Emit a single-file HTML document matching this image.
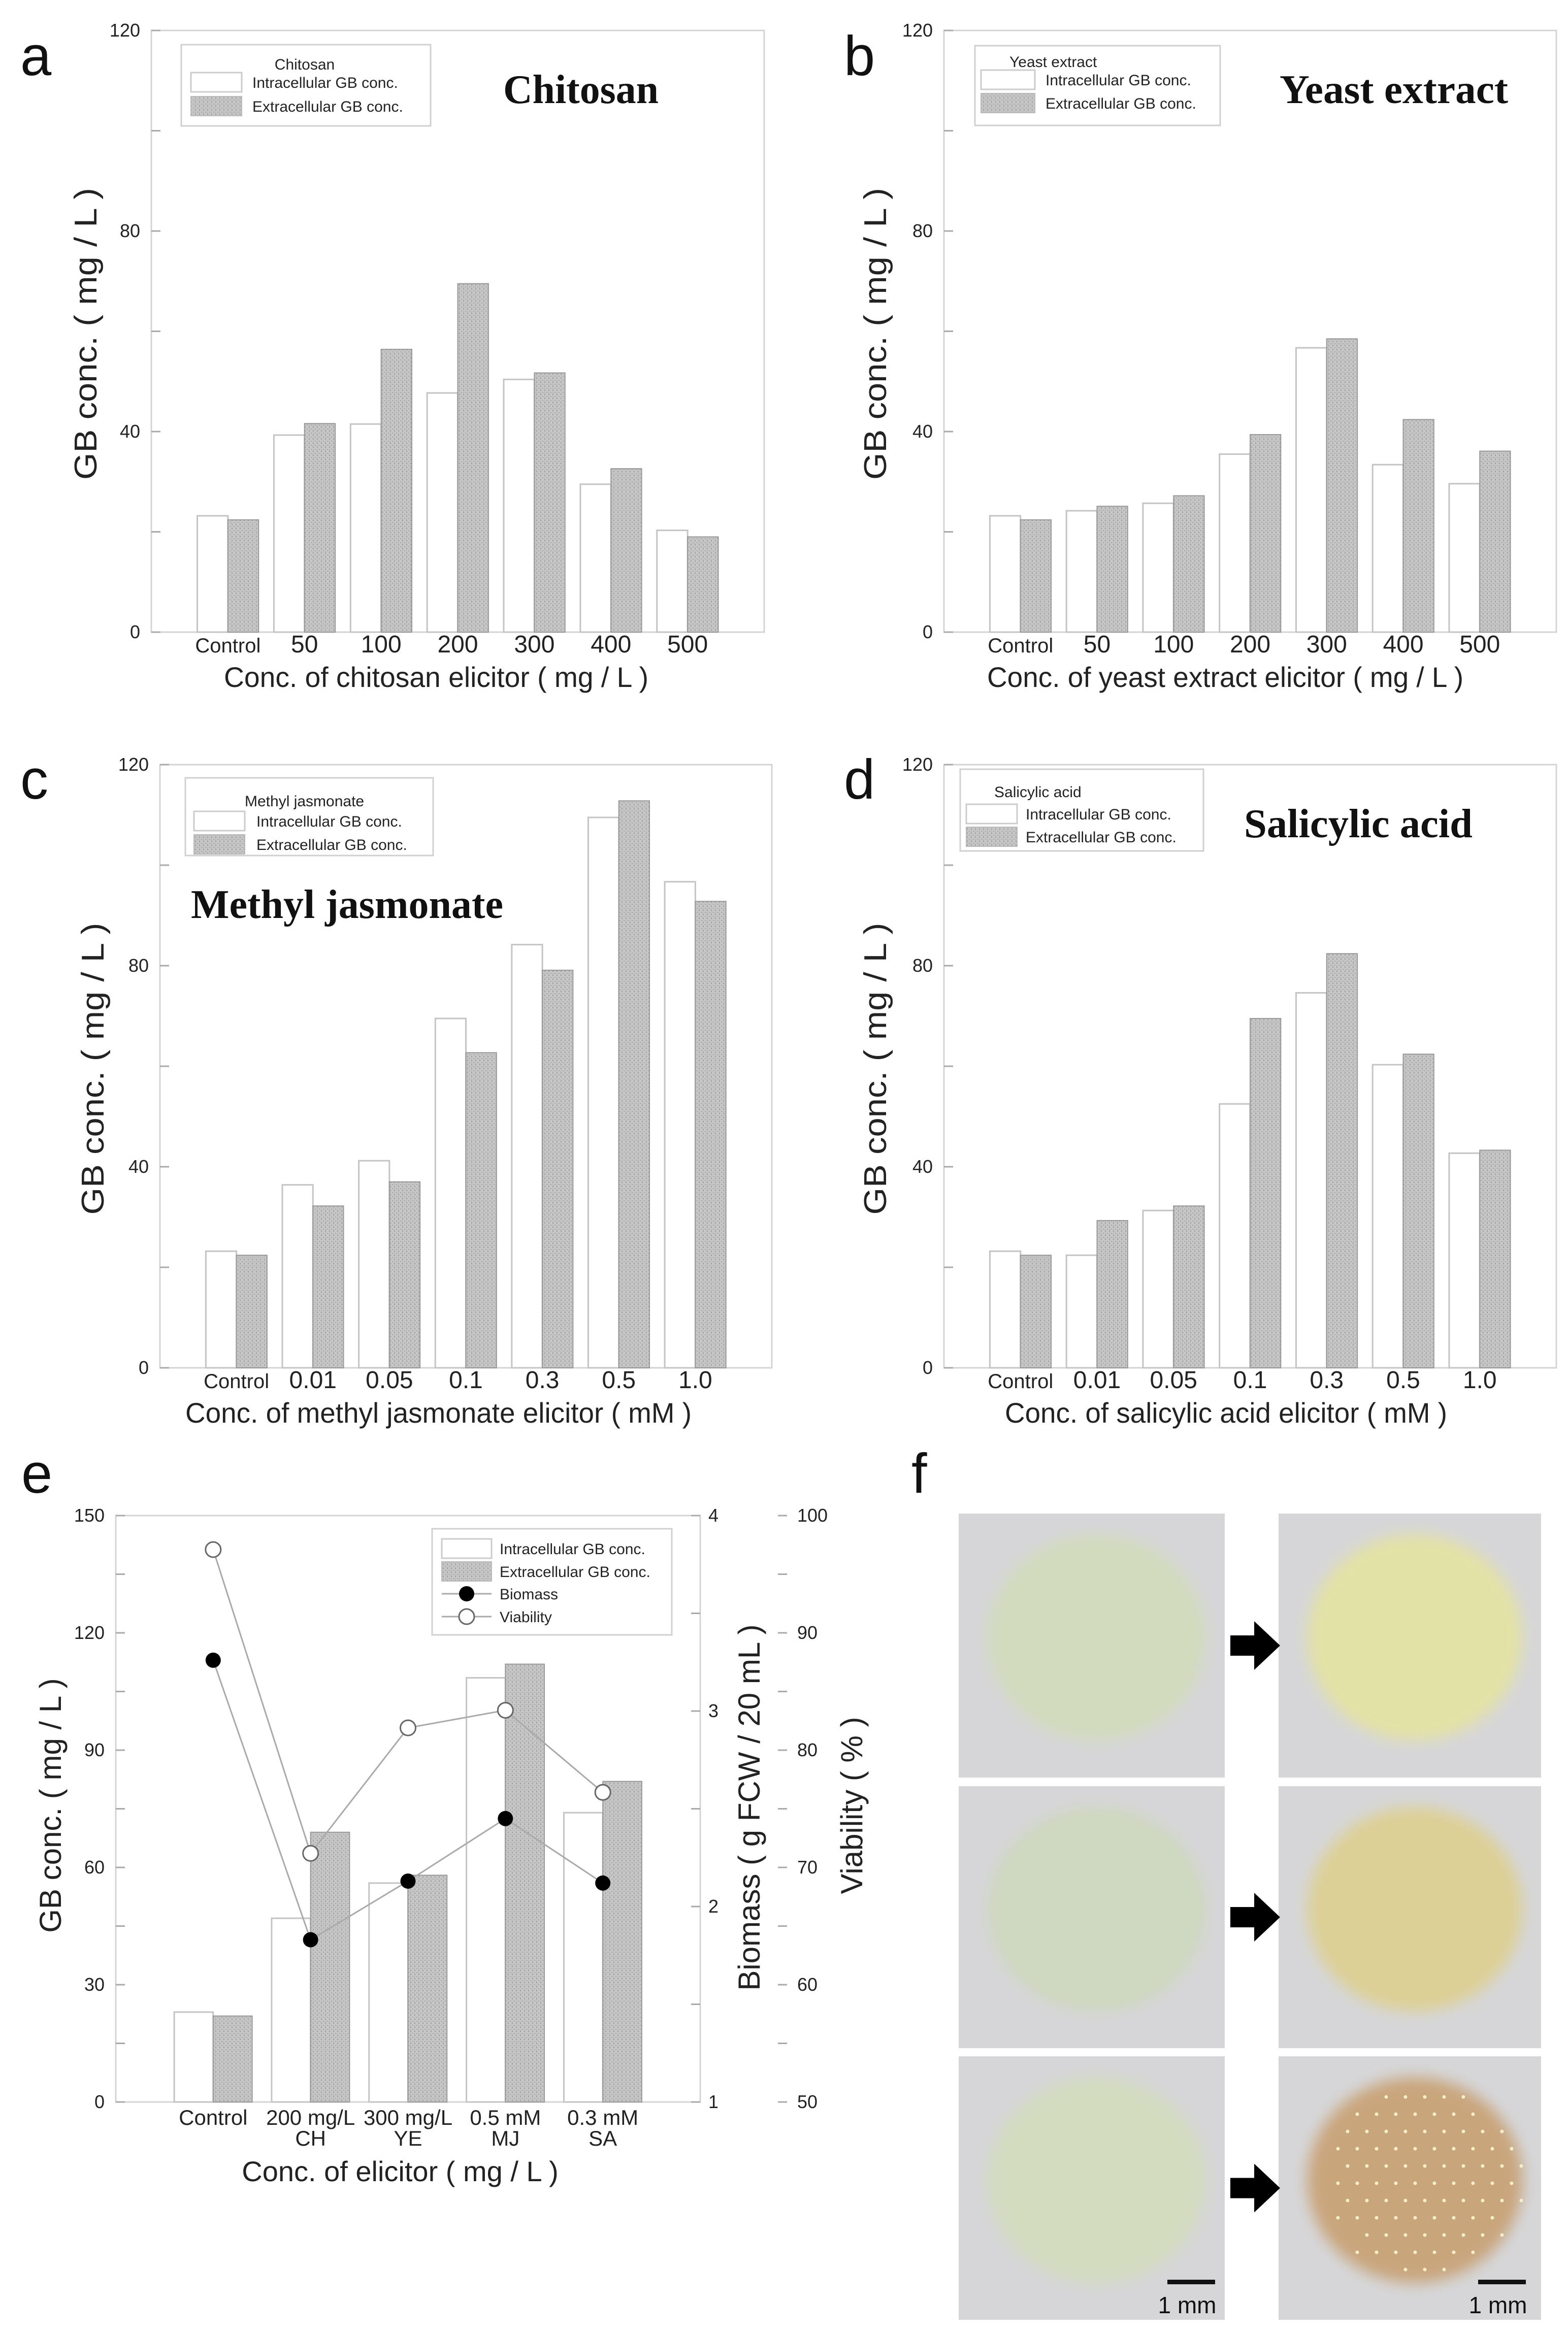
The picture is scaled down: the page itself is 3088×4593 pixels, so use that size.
<!DOCTYPE html>
<html><head><meta charset="utf-8"><title>GB elicitor figure</title>
<style>html,body{margin:0;padding:0;background:#fff}svg{display:block}</style></head>
<body>
<svg id="fig" xmlns="http://www.w3.org/2000/svg" width="3088" height="4593" viewBox="0 0 3088 4593" font-family="Liberation Sans, sans-serif">
<defs>
<pattern id="hatch" width="8" height="8" patternUnits="userSpaceOnUse">
<rect width="8" height="8" fill="#c6c6c6"/><rect x="0" y="0" width="2" height="2" fill="#9a9a9a"/><rect x="4" y="4" width="2" height="2" fill="#a8a8a8"/><rect x="0" y="4" width="1" height="8" fill="#b4b4b4"/>
</pattern>
<filter id="blur" x="-20%" y="-20%" width="140%" height="140%"><feGaussianBlur stdDeviation="14"/></filter>
</defs>
<g id="charts"></g>
<g id="photos"></g>
</svg>
<script>
const NS='http://www.w3.org/2000/svg';
// ---- data ----
const aCats=['Control','50','100','200','300','400','500'];
const aIntra=[23.2,39.3,41.5,47.7,50.4,29.5,20.3];
const aExtra=[22.4,41.6,56.4,69.5,51.7,32.6,19.0];
const bCats=['Control','50','100','200','300','400','500'];
const bIntra=[23.2,24.2,25.7,35.5,56.7,33.4,29.6];
const bExtra=[22.4,25.1,27.2,39.4,58.5,42.4,36.1];
const cCats=['Control','0.01','0.05','0.1','0.3','0.5','1.0'];
const cIntra=[23.2,36.4,41.2,69.5,84.2,109.5,96.7];
const cExtra=[22.4,32.2,37.0,62.7,79.1,112.8,92.8];
const dCats=['Control','0.01','0.05','0.1','0.3','0.5','1.0'];
const dIntra=[23.2,22.4,31.3,52.5,74.6,60.3,42.7];
const dExtra=[22.4,29.3,32.2,69.5,82.4,62.4,43.3];
const yTicks4=[0,40,80,120];
const eCats1=['Control','200 mg/L','300 mg/L','0.5 mM','0.3 mM'];
const eCats2=['','CH','YE','MJ','SA'];
const eIntra=[23,47,56,108.5,74];
const eExtra=[22,69,58,112,82];
const eBiomass=[3.26,1.83,2.13,2.45,2.12];
const eViability=[97.1,71.2,81.9,83.4,76.4];
const eLeftTicks=[0,30,60,90,120,150];
const eBioTicks=[1,2,3,4];
const eViaTicks=[50,60,70,80,90,100];

const root=document.getElementById('charts');
function el(tag,attrs,parent,txt){const e=document.createElementNS(NS,tag);for(const k in attrs)e.setAttribute(k,attrs[k]);if(txt!==undefined)e.textContent=txt;(parent||root).appendChild(e);return e;}

function legend(g,L){
  const lg=el('g',{},g);
  
  
  el('rect',{x:L.x,y:L.y,width:L.w,height:L.h,fill:'#fff',stroke:'#d0d0d0','stroke-width':3},lg);
  const t=el('text',{x:L.tx,y:L.ty,'font-size':30,fill:'#222','text-anchor':L.tanchor||'start'},lg,L.title);
  
  
  const s1=el('rect',{x:L.sx,y:L.r1-19,width:L.sw,height:38,fill:'#fff',stroke:'#ccc','stroke-width':3},lg);
  
  
  const t1=el('text',{x:L.lx,y:L.r1+11,'font-size':30,fill:'#222'},lg,'Intracellular GB conc.');
  
  
  const s2=el('rect',{x:L.sx,y:L.r2-19,width:L.sw,height:38,fill:'url(#hatch)',stroke:'#bbb','stroke-width':2},lg);
  
  
  const t2=el('text',{x:L.lx,y:L.r2+11,'font-size':30,fill:'#222'},lg,'Extracellular GB conc.');
  
  
}

function barChart(C){
  const g=el('g',{});
  
  
  const x0=C.x0,x1=C.x1,y0=C.y0,y1=C.y1,W=x1-x0,H=y1-y0,slot=W/8;
  const ys=v=>y1-v/120*H;
  const xs=i=>x0+slot*(i+1);
  const lab=el('text',{x:C.lx,y:C.ly,'font-size':110,fill:'#111'},g,C.letter);
  
  
  const fr=el('rect',{x:x0,y:y0,width:W,height:H,fill:'none',stroke:'#d4d4d4','stroke-width':3},g);
  
  
  for(let v=0;v<=120;v+=20){
    const tk=el('line',{x1:x0,x2:x0+18,y1:ys(v),y2:ys(v),stroke:'#aaa','stroke-width':3},g);
    
    
  }
  yTicks4.forEach(v=>{
    const t=el('text',{x:x0-22,y:ys(v)+12,'font-size':36,'text-anchor':'end',fill:'#222'},g,String(v));
    
    
  });
  C.cats.forEach((c,i)=>{
    const cx=xs(i),bw=slot*0.4;
    const r1=el('rect',{x:cx-bw,y:ys(C.intra[i]),width:bw,height:y1-ys(C.intra[i]),fill:'#fff',stroke:'#c4c4c4','stroke-width':3},g);
    
    
    const r2=el('rect',{x:cx,y:ys(C.extra[i]),width:bw,height:y1-ys(C.extra[i]),fill:'url(#hatch)',stroke:'#999','stroke-width':2},g);
    
    
    const t=el('text',{x:cx,y:y1+40,'font-size':c==='Control'?40:48,'text-anchor':'middle',fill:'#222'},g,c);
    
    
  });
  const xt=el('text',{x:C.xtx,y:y1+108,'font-size':56,fill:'#222',textLength:C.xtw,lengthAdjust:'spacingAndGlyphs'},g,C.xtitle);
  
  
  const yc=(y0+y1)/2+5;
  const yt=el('text',{x:0,y:0,'font-size':62,fill:'#222','text-anchor':'middle',transform:`translate(${C.ytx},${yc}) rotate(-90)`,textLength:575,lengthAdjust:'spacingAndGlyphs'},g,'GB conc. ( mg / L )');
  
  
  const tt=el('text',{x:C.ttx,y:C.tty,'font-size':80,'font-weight':'bold','font-family':'Liberation Serif, serif',fill:'#111',textLength:C.ttw,lengthAdjust:'spacingAndGlyphs'},g,C.title);
  
  
  legend(g,C.legend);
}

barChart({name:'chart-a-chitosan',letter:'a',lx:40,ly:148,x0:298,x1:1505,y0:60,y1:1245,cats:aCats,intra:aIntra,extra:aExtra,
  xtitle:'Conc. of chitosan elicitor ( mg / L )',xtx:441,xtw:836,ytx:190,title:'Chitosan',ttx:991,tty:203,ttw:306,
  legend:{x:357,y:88,w:491,h:160,title:'Chitosan',tx:600,ty:137,tanchor:'middle',sx:376,sw:100,lx:497,r1:162,r2:209}});
barChart({name:'chart-b-yeast-extract',letter:'b',lx:1662,ly:148,x0:1859,x1:3065,y0:60,y1:1245,cats:bCats,intra:bIntra,extra:bExtra,
  xtitle:'Conc. of yeast extract elicitor ( mg / L )',xtx:1944,xtw:938,ytx:1745,title:'Yeast extract',ttx:2520,tty:203,ttw:450,
  legend:{x:1920,y:90,w:483,h:157,title:'Yeast extract',tx:1988,ty:132,sx:1932,sw:106,lx:2059,r1:157,r2:203}});
barChart({name:'chart-c-methyl-jasmonate',letter:'c',lx:40,ly:1573,x0:315,x1:1520,y0:1506,y1:2694,cats:cCats,intra:cIntra,extra:cExtra,
  xtitle:'Conc. of methyl jasmonate elicitor ( mM )',xtx:365,xtw:997,ytx:204,title:'Methyl jasmonate',ttx:376,tty:1808,ttw:615,
  legend:{x:365,y:1532,w:488,h:153,title:'Methyl jasmonate',tx:482,ty:1588,sx:382,sw:100,lx:505,r1:1617,r2:1663}});
barChart({name:'chart-d-salicylic-acid',letter:'d',lx:1662,ly:1573,x0:1859,x1:3065,y0:1506,y1:2694,cats:dCats,intra:dIntra,extra:dExtra,
  xtitle:'Conc. of salicylic acid elicitor ( mM )',xtx:1979,xtw:871,ytx:1745,title:'Salicylic acid',ttx:2450,tty:1649,ttw:450,
  legend:{x:1891,y:1515,w:479,h:161,title:'Salicylic acid',tx:1958,ty:1570,sx:1903,sw:100,lx:2020,r1:1603,r2:1648}});

// ---- panel e ----
(function(){
  const g=el('g',{});
  
  
  const x0=228,x1=1379,y0=2985,y1=4140,W=x1-x0,H=y1-y0,slot=W/6,vx=1550;
  const ys=v=>y1-v/150*H, yb=v=>y1-(v-1)/3*H, yv=v=>y1-(v-50)/50*H, xs=i=>x0+slot*(i+1);
  const lab=el('text',{x:42,y:2940,'font-size':110,fill:'#111'},g,'e');
  
  
  const fr=el('rect',{x:x0,y:y0,width:W,height:H,fill:'none',stroke:'#d4d4d4','stroke-width':3},g);
  
  
  for(let v=0;v<=150;v+=15){const t=el('line',{x1:x0,x2:x0+18,y1:ys(v),y2:ys(v),stroke:'#aaa','stroke-width':3},g);}
  for(let v=1;v<=4;v+=0.5){const t=el('line',{x1:x1-18,x2:x1,y1:yb(v),y2:yb(v),stroke:'#aaa','stroke-width':3},g);}
  for(let v=50;v<=100;v+=5){const t=el('line',{x1:vx-18,x2:vx,y1:yv(v),y2:yv(v),stroke:'#aaa','stroke-width':3},g);}
  eLeftTicks.forEach(v=>{const t=el('text',{x:206,y:ys(v)+12,'font-size':36,'text-anchor':'end',fill:'#222'},g,String(v));});
  eBioTicks.forEach(v=>{const t=el('text',{x:1395,y:yb(v)+12,'font-size':36,fill:'#222'},g,String(v));});
  eViaTicks.forEach(v=>{const t=el('text',{x:1570,y:yv(v)+12,'font-size':36,fill:'#222'},g,String(v));});
  eCats1.forEach((c,i)=>{
    const cx=xs(i),bw=slot*0.4;
    const r1=el('rect',{x:cx-bw,y:ys(eIntra[i]),width:bw,height:y1-ys(eIntra[i]),fill:'#fff',stroke:'#c4c4c4','stroke-width':3},g);
    
    
    const r2=el('rect',{x:cx,y:ys(eExtra[i]),width:bw,height:y1-ys(eExtra[i]),fill:'url(#hatch)',stroke:'#999','stroke-width':2},g);
    
    
    const t=el('text',{x:cx,y:y1+45,'font-size':42,'text-anchor':'middle',fill:'#222'},g,c);
    
    
    const t2=el('text',{x:cx,y:y1+86,'font-size':42,'text-anchor':'middle',fill:'#222'},g,eCats2[i]);
    
    
  });
  const lb=el('polyline',{points:eBiomass.map((v,i)=>xs(i)+','+yb(v)).join(' '),fill:'none',stroke:'#aaa','stroke-width':3},g);
  
  
  const lv=el('polyline',{points:eViability.map((v,i)=>xs(i)+','+yv(v)).join(' '),fill:'none',stroke:'#aaa','stroke-width':3},g);
  
  
  eBiomass.forEach((v,i)=>{const c=el('circle',{cx:xs(i),cy:yb(v),r:15,fill:'#000'},g);});
  eViability.forEach((v,i)=>{const c=el('circle',{cx:xs(i),cy:yv(v),r:15,fill:'#fff',stroke:'#666','stroke-width':3},g);});
  const lg=el('g',{},g);
  
  
  el('rect',{x:851,y:3011,width:472,height:209,fill:'#fff',stroke:'#d0d0d0','stroke-width':3},lg);
  el('rect',{x:870,y:3031,width:98,height:38,fill:'#fff',stroke:'#ccc','stroke-width':3},lg);
  el('rect',{x:870,y:3076,width:98,height:38,fill:'url(#hatch)',stroke:'#bbb','stroke-width':2},lg);
  el('line',{x1:870,x2:968,y1:3139,y2:3139,stroke:'#aaa','stroke-width':3},lg);
  el('circle',{cx:919,cy:3139,r:15,fill:'#000'},lg);
  el('line',{x1:870,x2:968,y1:3184,y2:3184,stroke:'#aaa','stroke-width':3},lg);
  el('circle',{cx:919,cy:3184,r:15,fill:'#fff',stroke:'#666','stroke-width':3},lg);
  ['Intracellular GB conc.','Extracellular GB conc.','Biomass','Viability'].forEach((s,k)=>{
    const t=el('text',{x:984,y:[3050,3095,3139,3184][k]+11,'font-size':30,fill:'#222'},lg,s);
    
    
  });
  const xt=el('text',{x:788,y:4296,'font-size':56,'text-anchor':'middle',fill:'#222'},g,'Conc. of elicitor ( mg / L )');
  
  
  const yt=el('text',{x:0,y:0,'font-size':60,'text-anchor':'middle',fill:'#222',transform:'translate(120,3556) rotate(-90)'},g,'GB conc. ( mg / L )');
  
  
  const bt=el('text',{x:0,y:0,'font-size':60,'text-anchor':'middle',fill:'#222',transform:'translate(1496,3560) rotate(-90)'},g,'Biomass ( g FCW / 20 mL )');
  
  
  const vt=el('text',{x:0,y:0,'font-size':60,'text-anchor':'middle',fill:'#222',transform:'translate(1698,3556) rotate(-90)'},g,'Viability ( % )');
  
  
})();

// ---- panel f photos ----
(function(){
  const P=document.getElementById('photos');
  
  
  el('text',{x:1795,y:2940,'font-size':110,fill:'#111'},P,'f');
  const rows=[[2981,3501],[3518,4034],[4050,4569]];
  const cols=[[1888,2412],[2518,3035]];
  const blobL=['#d2dbbd','#cfd8c0','#d3dcbf'];
  const blobR=['#e3e2a6','#ddd096','#c9a57c'];
  rows.forEach((r,ri)=>{
    cols.forEach((c,ci)=>{
      const g=el('g',{},P);
      
      
      const w=c[1]-c[0],h=r[1]-r[0];
      el('rect',{x:c[0],y:r[0],width:w,height:h,fill:'#d6d6d8'},g);
      el('ellipse',{cx:c[0]+w*0.52,cy:r[0]+h*0.47,rx:w*0.41,ry:h*0.39,fill:ci?blobR[ri]:blobL[ri],filter:'url(#blur)'},g);
      if(ri===2&&ci===1){
        for(let yy=r[0]+80;yy<r[1]-60;yy+=34)for(let xx=c[0]+70;xx<c[1]-60;xx+=38){
          const dx=(xx-(c[0]+w*0.52))/(w*0.4),dy=(yy-(r[0]+h*0.47))/(h*0.38);
          if(dx*dx+dy*dy<0.9)el('circle',{cx:xx+((yy/34)%2)*19,cy:yy,r:3.5,fill:'#f4efc8'},g);
        }
      }
    });
    const m=(r[0]+r[1])/2;
    const a=el('polygon',{points:`2423,${m-20} 2470,${m-20} 2470,${m-48} 2521,${m} 2470,${m+48} 2470,${m+20} 2423,${m+20}`,fill:'#000'},P);
    
    
  });
  [[2299,2393],[2911,3005]].forEach(s=>{
    const b=el('rect',{x:s[0],y:4490,width:s[1]-s[0],height:9,fill:'#111'},P);
    
    
    const t=el('text',{x:(s[0]+s[1])/2-8,y:4556,'font-size':46,'text-anchor':'middle',fill:'#111'},P,'1 mm');
    
    
  });
})();
</script>
</body></html>
